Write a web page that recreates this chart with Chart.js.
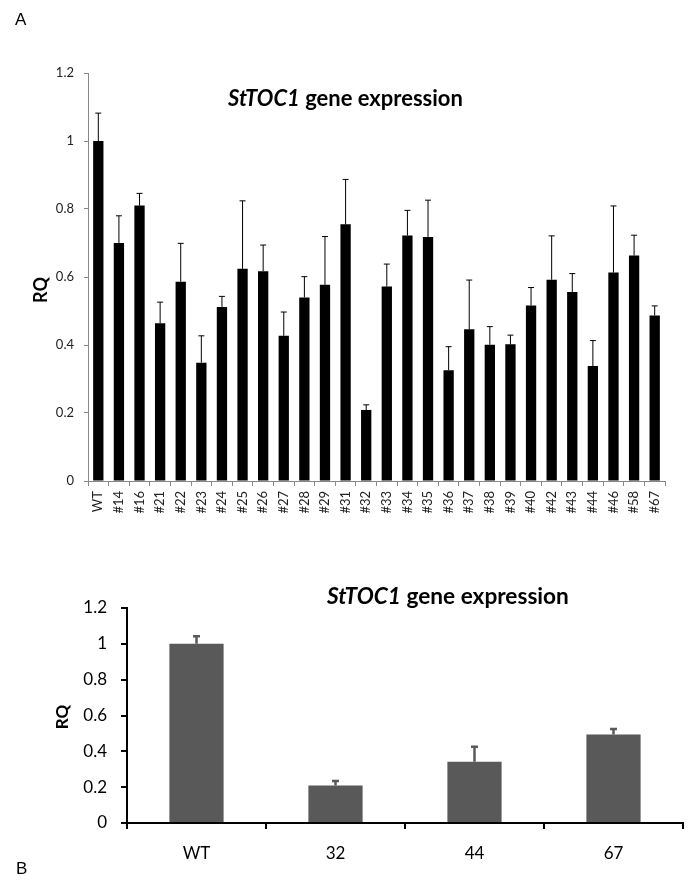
<!DOCTYPE html>
<html>
<head>
<meta charset="utf-8">
<script src="https://cdn.jsdelivr.net/npm/chart.js@4.4.0/dist/chart.umd.min.js"></script>
<style>
  body { margin: 0; background: #fff; width: 694px; height: 880px; position: relative; overflow: hidden; }
  canvas { position: absolute; left: 0; }
  #graficaA { top: 0; }
  #graficaB { top: 560px; }
</style>
</head>
<body>
<canvas id="graficaA" width="694" height="560"></canvas>
<canvas id="graficaB" width="694" height="320"></canvas>
<script>
// datos panel A
const lineas = ['WT', '#14', '#16', '#21', '#22', '#23', '#24', '#25', '#26', '#27', '#28', '#29', '#31', '#32',
    '#33', '#34', '#35', '#36', '#37', '#38', '#39', '#40', '#42', '#43', '#44', '#46', '#58', '#67'];
const rqA = [1.0, 0.70, 0.81, 0.464, 0.586, 0.348, 0.512, 0.624, 0.617, 0.427, 0.540, 0.577, 0.755, 0.209,
    0.572, 0.722, 0.718, 0.326, 0.446, 0.401, 0.402, 0.516, 0.592, 0.556, 0.338, 0.613, 0.663, 0.487];
const errA = [0.082, 0.08, 0.036, 0.062, 0.113, 0.079, 0.031, 0.200, 0.077, 0.070, 0.061, 0.142, 0.132, 0.015,
    0.066, 0.074, 0.108, 0.069, 0.145, 0.053, 0.027, 0.053, 0.129, 0.054, 0.075, 0.196, 0.060, 0.028];

// datos panel B
const lineasB = ['WT', '32', '44', '67'];
const rqB = [1.0, 0.209, 0.342, 0.494];
const errB = [0.043, 0.026, 0.083, 0.031];

const ticksY = [0, 0.2, 0.4, 0.6, 0.8, 1, 1.2];

const fuente = 'Lato, "Open Sans", sans-serif';

// barras de error (solo hacia arriba)
const barrasError = {
    id: 'barrasError',
    afterDatasetsDraw(chart, args, opts) {
        const ctx = chart.ctx;
        const y = chart.scales.y;
        const meta = chart.getDatasetMeta(0);
        ctx.save();
        ctx.strokeStyle = opts.color;
        ctx.lineWidth = opts.width;
        meta.data.forEach((bar, i) => {
            const v = chart.data.datasets[0].data[i];
            const e = opts.errores[i];
            const y0 = y.getPixelForValue(v);
            const y1 = y.getPixelForValue(v + e);
            ctx.beginPath();
            ctx.moveTo(bar.x, y0);
            ctx.lineTo(bar.x, y1);
            ctx.moveTo(bar.x - opts.cap, y1);
            ctx.lineTo(bar.x + opts.cap, y1);
            ctx.stroke();
        });
        ctx.restore();
    }
};

// textos: titulo con parte en cursiva, RQ, letra del panel
const textos = {
    id: 'textos',
    afterDraw(chart, args, opts) {
        const ctx = chart.ctx;
        ctx.save();
        ctx.fillStyle = '#000';
        ctx.textBaseline = 'alphabetic';
        // titulo: tamaño ajustado al ancho del original
        ctx.font = 'italic bold 100px ' + fuente;
        let m1 = ctx.measureText('StTOC1').width;
        ctx.font = 'bold 100px ' + fuente;
        let m2 = ctx.measureText(' gene expression').width;
        const tam = 100 * opts.ancho / (m1 + m2);
        const f1 = 'italic bold ' + tam + 'px ' + fuente;
        const f2 = 'bold ' + tam + 'px ' + fuente;
        ctx.font = f1;
        const w1 = ctx.measureText('StTOC1').width;
        ctx.textAlign = 'left';
        ctx.fillText('StTOC1', opts.tx, opts.ty);
        ctx.font = f2;
        ctx.fillText(' gene expression', opts.tx + w1, opts.ty);
        // RQ
        ctx.save();
        ctx.translate(opts.rx, opts.ry);
        ctx.rotate(-Math.PI / 2);
        ctx.font = 'bold ' + opts.rtam + 'px ' + fuente;
        ctx.textAlign = 'center';
        ctx.textBaseline = 'middle';
        ctx.fillText('RQ', 0, 0);
        ctx.restore();
        // letra
        ctx.font = '17px "Liberation Sans", Arial, sans-serif';
        ctx.textAlign = 'left';
        ctx.fillText(opts.letra, opts.lx, opts.ly);
        ctx.restore();
    }
};

function etiquetaY(v) {
    return String(+v.toFixed(1));
}

// Panel A
const ctxA = document.getElementById('graficaA');
new Chart(ctxA, {
    type: 'bar',
    data: {
        labels: lineas,
        datasets: [{
            data: rqA,
            backgroundColor: '#000',
            borderWidth: 0,
            barPercentage: 0.5,
            categoryPercentage: 1
        }]
    },
    options: {
        responsive: false,
        animation: false,
        layout: { padding: { top: 73, right: 29, left: 0, bottom: 0 } },
        scales: {
            x: {
                afterFit: s => { s.height = 79; },
                grid: { display: true, drawOnChartArea: false, offset: true, color: '#888', tickLength: 5 },
                border: { color: '#888', width: 1 },
                ticks: { minRotation: 90, maxRotation: 90, color: '#222', font: { family: fuente, size: 13 }, padding: 5, autoSkip: false }
            },
            y: {
                min: 0,
                max: 1.2,
                afterFit: s => { s.width = 88; },
                afterBuildTicks: s => { s.ticks = ticksY.map(v => ({ value: v })); },
                grid: { display: true, drawOnChartArea: false, color: '#888', tickLength: 4 },
                border: { color: '#888', width: 1 },
                ticks: { color: '#222', font: { family: fuente, size: 13 }, padding: 10, callback: etiquetaY }
            }
        },
        plugins: {
            legend: { display: false },
            tooltip: { enabled: false },
            barrasError: { errores: errA, color: '#000', width: 1, cap: 3 },
            textos: { ancho: 235, tx: 228, ty: 106, rx: 41, ry: 290, rtam: 18, letra: 'A', lx: 15, ly: 25 }
        }
    },
    plugins: [barrasError, textos]
});

// Panel B
const ctxB = document.getElementById('graficaB');
new Chart(ctxB, {
    type: 'bar',
    data: {
        labels: lineasB,
        datasets: [{
            data: rqB,
            backgroundColor: '#595959',
            borderWidth: 0,
            barPercentage: 0.39,
            categoryPercentage: 1
        }]
    },
    options: {
        responsive: false,
        animation: false,
        layout: { padding: { top: 48, right: 11, left: 0, bottom: 0 } },
        scales: {
            x: {
                afterFit: s => { s.height = 57; },
                grid: { display: true, drawOnChartArea: false, offset: true, color: '#000', tickLength: 6, lineWidth: 2 },
                border: { color: '#000', width: 2 },
                ticks: { color: '#000', font: { family: fuente, size: 17 }, padding: 14 }
            },
            y: {
                min: 0,
                max: 1.2,
                afterFit: s => { s.width = 127; },
                afterBuildTicks: s => { s.ticks = ticksY.map(v => ({ value: v })); },
                grid: { display: true, drawOnChartArea: false, color: '#000', tickLength: 6, lineWidth: 2 },
                border: { color: '#000', width: 2 },
                ticks: { color: '#000', font: { family: fuente, size: 17 }, padding: 14, callback: etiquetaY }
            }
        },
        plugins: {
            legend: { display: false },
            tooltip: { enabled: false },
            barrasError: { errores: errB, color: '#595959', width: 2.5, cap: 3.5 },
            textos: { ancho: 242, tx: 327, ty: 44, rx: 63, ry: 157, rtam: 17, letra: 'B', lx: 16, ly: 314 }
        }
    },
    plugins: [barrasError, textos]
});
</script>
</body>
</html>
